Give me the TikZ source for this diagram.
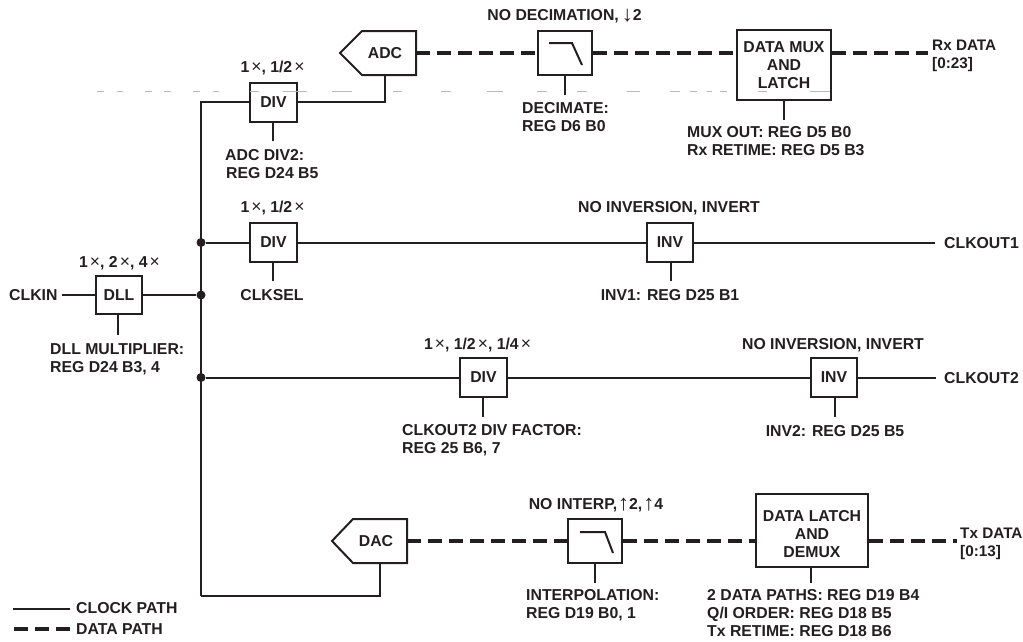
\documentclass[tikz,border=0pt]{standalone}
\usepackage{fontspec}
\setmainfont{Liberation Sans}
\newcommand{\tms}{\hspace{2pt}{\mdseries\fontsize{17.5}{18}\selectfont ×}}
\newcommand{\dnarr}{\raisebox{-1pt}{\fontsize{22}{18}\selectfont ↓}}
\newcommand{\uparr}{\raisebox{-1pt}{\fontsize{22}{18}\selectfont ↑}}
\definecolor{ink}{HTML}{231F20}
\definecolor{ghost}{HTML}{B8B8B8}
\tikzset{
  wire/.style={draw=ink,line width=2pt},
  datawire/.style={draw=ink,line width=3.2pt,dash pattern=on 14pt off 7pt},
  blockbox/.style={draw=ink,fill=white,line width=2pt,inner sep=0pt,font=\fontsize{15.8}{18}\selectfont\bfseries,text=ink,align=center},
  lab/.style={inner sep=0pt,font=\fontsize{15.8}{18}\selectfont\bfseries,text=ink,align=left},
  joint/.style={circle,fill=ink,draw=none,minimum size=9pt,inner sep=0pt},
  ghostline/.style={draw=ghost,line width=0.8pt}
}
\begin{document}
\begin{tikzpicture}[x=1pt,y=-1pt]
\useasboundingbox (0,0) rectangle (1023,641);
% coordinates
\coordinate (jtop) at (201,102);
\coordinate (jbot) at (201,596);
\node[joint] (j1) at (201,242.5) {};
\node[joint] (j2) at (201,295) {};
\node[joint] (j3) at (201,377.5) {};
% ADC and DAC
\draw[blockbox] (340,53) -- (362,31) -- (416,31) -- (416,75) -- (362,75) -- cycle;
\node[lab] (adc) at (385,53) {ADC};
\coordinate (adcR) at (416,53);
\coordinate (adcB) at (385,75);
\draw[blockbox] (332,541) -- (353,519) -- (407,519) -- (407,563) -- (353,563) -- cycle;
\node[lab] (dac) at (376,541.5) {DAC};
\coordinate (dacR) at (407,541);
\coordinate (dacB) at (380,563);
% boxes
\node[blockbox,minimum width=47pt,minimum height=39pt] (div1) at (273.5,102) {DIV};
\node[blockbox,minimum width=47pt,minimum height=39pt] (div2) at (273.5,242.5) {DIV};
\node[blockbox,minimum width=47pt,minimum height=39pt] (div3) at (483.5,377.5) {DIV};
\node[blockbox,minimum width=46pt,minimum height=38pt] (dll) at (119,295) {DLL};
\node[blockbox,minimum width=46pt,minimum height=39pt] (inv1) at (670,242.5) {INV};
\node[blockbox,minimum width=46pt,minimum height=39pt] (inv2) at (834,377.5) {INV};
\node[blockbox,minimum width=54pt,minimum height=44pt] (fil1) at (565,53) {};
\node[blockbox,minimum width=54pt,minimum height=44pt] (fil2) at (595,541) {};
\node[blockbox,minimum width=94pt,minimum height=70pt] (mux) at (784,65) {DATA MUX\\AND\\LATCH};
\node[blockbox,minimum width=112pt,minimum height=73pt] (demux) at (812,530.5) {};
\node[lab,align=center] (demuxtext) at (812,534) {DATA LATCH\\AND\\DEMUX};
% filter glyphs
\draw[wire] (549,43) -- (572,43) -- (582,65);
\draw[wire] (580,532) -- (605,532) -- (613,553);
% free ends
\coordinate (e1) at (62,295);
\coordinate (e2) at (935,242.5);
\coordinate (e3) at (936,377.5);
\coordinate (e4) at (928,53);
\coordinate (e5) at (957,541);
\coordinate (s1) at (272.5,141);
\coordinate (s2) at (272.5,281);
\coordinate (s3) at (118,335);
\coordinate (s4) at (671,281);
\coordinate (s5) at (482.5,417);
\coordinate (s6) at (835,417);
\coordinate (s7) at (565,95);
\coordinate (s8) at (784,120);
\coordinate (s9) at (595,583);
\coordinate (s10) at (811,583);
% clock wires
\draw[wire] (jbot) -- (jtop) -- (div1.west);
\draw[wire] (div1.east) -| (adcB);
\draw[wire] (jbot) -| (dacB);
\draw[wire] (j1) -- (div2.west);
\draw[wire] (div2.east) -- (inv1.west);
\draw[wire] (inv1.east) -- (e2);
\draw[wire] (e1) -- (dll.west);
\draw[wire] (dll.east) -- (j2);
\draw[wire] (j3) -- (div3.west);
\draw[wire] (div3.east) -- (inv2.west);
\draw[wire] (inv2.east) -- (e3);
% stubs
\draw[wire] (s1) -- (s1 |- div1.south);
\draw[wire] (s2) -- (s2 |- div2.south);
\draw[wire] (s3) -- (s3 |- dll.south);
\draw[wire] (s4) -- (s4 |- inv1.south);
\draw[wire] (s5) -- (s5 |- div3.south);
\draw[wire] (s6) -- (s6 |- inv2.south);
\draw[wire] (s7) -- (fil1.south);
\draw[wire] (s8) -- (mux.south);
\draw[wire] (s9) -- (fil2.south);
\draw[wire] (s10) -- (s10 |- demux.south);
% data wires
\draw[datawire] (adcR) -- (fil1.west);
\draw[datawire] (fil1.east) -- (mux.west |- fil1.east);
\draw[datawire] (mux.east |- e4) -- (e4);
\draw[datawire] (dacR) -- (fil2.west);
\draw[datawire] (fil2.east) -- (demux.west |- fil2.east);
\draw[datawire] (demux.east |- e5) -- (e5);
% labels
\node[lab,anchor=base] (t1) at (564.5,20.6) {NO DECIMATION,\hspace{3pt}\dnarr2};
\node[lab,anchor=base] (t2) at (272.5,72.6) {1\tms, 1/2\tms};
\node[lab,anchor=north west] (t3) at (225,149.5) {ADC DIV2:\\\hspace{1pt}REG D24 B5};
\node[lab,anchor=north west] (t4) at (522,102.5) {DECIMATE:\\REG D6 B0};
\node[lab,anchor=north west] (t5) at (687,126.5) {MUX OUT: REG D5 B0\\Rx RETIME: REG D5 B3};
\node[lab,anchor=north west,font=\fontsize{15.3}{18}\selectfont\bfseries] (t6) at (932,39.5) {Rx DATA\\{[0:23]}};
\node[lab,anchor=base] (t7) at (272.5,212.6) {1\tms, 1/2\tms};
\node[lab,anchor=base] (t8) at (669,212.6) {NO INVERSION, INVERT};
\node[lab,anchor=base] (t9) at (272,300.6) {CLKSEL};
\node[lab,anchor=base] (t10) at (670,300.6) {INV1: REG D25 B1};
\node[lab,anchor=base west] (t11) at (944,248) {CLKOUT1};
\node[lab,anchor=base] (t12) at (119.5,267.6) {1\tms, 2\tms, 4\tms};
\node[lab,anchor=base west] (t13) at (9,300.6) {CLKIN};
\node[lab,anchor=north west] (t14) at (50,343.5) {DLL MULTIPLIER:\\REG D24 B3, 4};
\node[lab,anchor=base] (t15) at (477.5,349.6) {1\tms, 1/2\tms, 1/4\tms};
\node[lab,anchor=base] (t16) at (833,349.6) {NO INVERSION, INVERT};
\node[lab,anchor=base west] (t17) at (944,383) {CLKOUT2};
\node[lab,anchor=north west] (t18) at (402,424.5) {CLKOUT2 DIV FACTOR:\\REG 25 B6, 7};
\node[lab,anchor=base] (t19) at (835,436.6) {INV2: REG D25 B5};
\node[lab,anchor=base] (t20) at (596,509.6) {NO INTERP,\hspace{1pt}\uparr2,\hspace{1pt}\uparr4};
\node[lab,anchor=north west] (t21) at (526,589.5) {INTERPOLATION:\\REG D19 B0, 1};
\node[lab,anchor=north west] (t22) at (707,589.5) {2 DATA PATHS: REG D19 B4\\Q/I ORDER: REG D18 B5\\Tx RETIME: REG D18 B6};
\node[lab,anchor=north west,font=\fontsize{15.3}{18}\selectfont\bfseries] (t23) at (960,527.5) {Tx DATA\\{[0:13]}};
% legend
\coordinate (l1a) at (13,609);
\coordinate (l1b) at (70,609);
\coordinate (l2a) at (14,629);
\coordinate (l2b) at (72,629);
\draw[wire] (l1a) -- (l1b);
\draw[datawire] (l2a) -- (l2b);
\node[lab,anchor=base west] (t24) at (76,613) {CLOCK PATH};
\node[lab,anchor=base west] (t25) at (76,634) {DATA PATH};
% faint scan line
\foreach \a/\b in {97/104,117/123,145/152,164/171,193/200,213/219,250/259,283/307,332/352,393/402,441/451,487/503,537/547,577/587,627/640,670/680,690/697,707/712,720/727,758/767,810/830}
  \draw[ghostline] (\a,91) -- (\b,91);
\end{tikzpicture}
\end{document}
